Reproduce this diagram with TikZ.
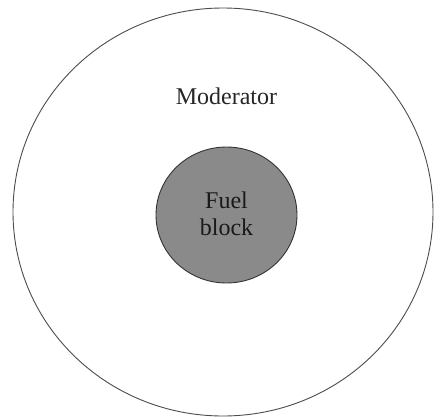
\documentclass[tikz,border=0pt]{standalone}
\usepackage{fontspec}
\setmainfont{Liberation Serif}
\newfontfamily\labelfont{Liberation Serif}
\definecolor{fuelgray}{HTML}{8A8A8A}

\begin{document}
\begin{tikzpicture}[x=1pt, y=-1pt, font=\labelfont\fontsize{24}{27}\selectfont]
    \useasboundingbox (0,0) rectangle (434,418);
    % Moderator region
    \draw[black!70, line width=0.9pt] (223,212) ellipse [x radius=210, y radius=204];
    \node[text=black!85] (moderator) at (226.5,96) {Moderator};

    % Fuel block
    \draw[black!80, fill=fuelgray, line width=0.9pt] (226.5,215) ellipse [x radius=70.5, y radius=68];
    \node[align=center, text=black!90] (fuel) at (226.5,214) {Fuel\\block};
\end{tikzpicture}
\end{document}
